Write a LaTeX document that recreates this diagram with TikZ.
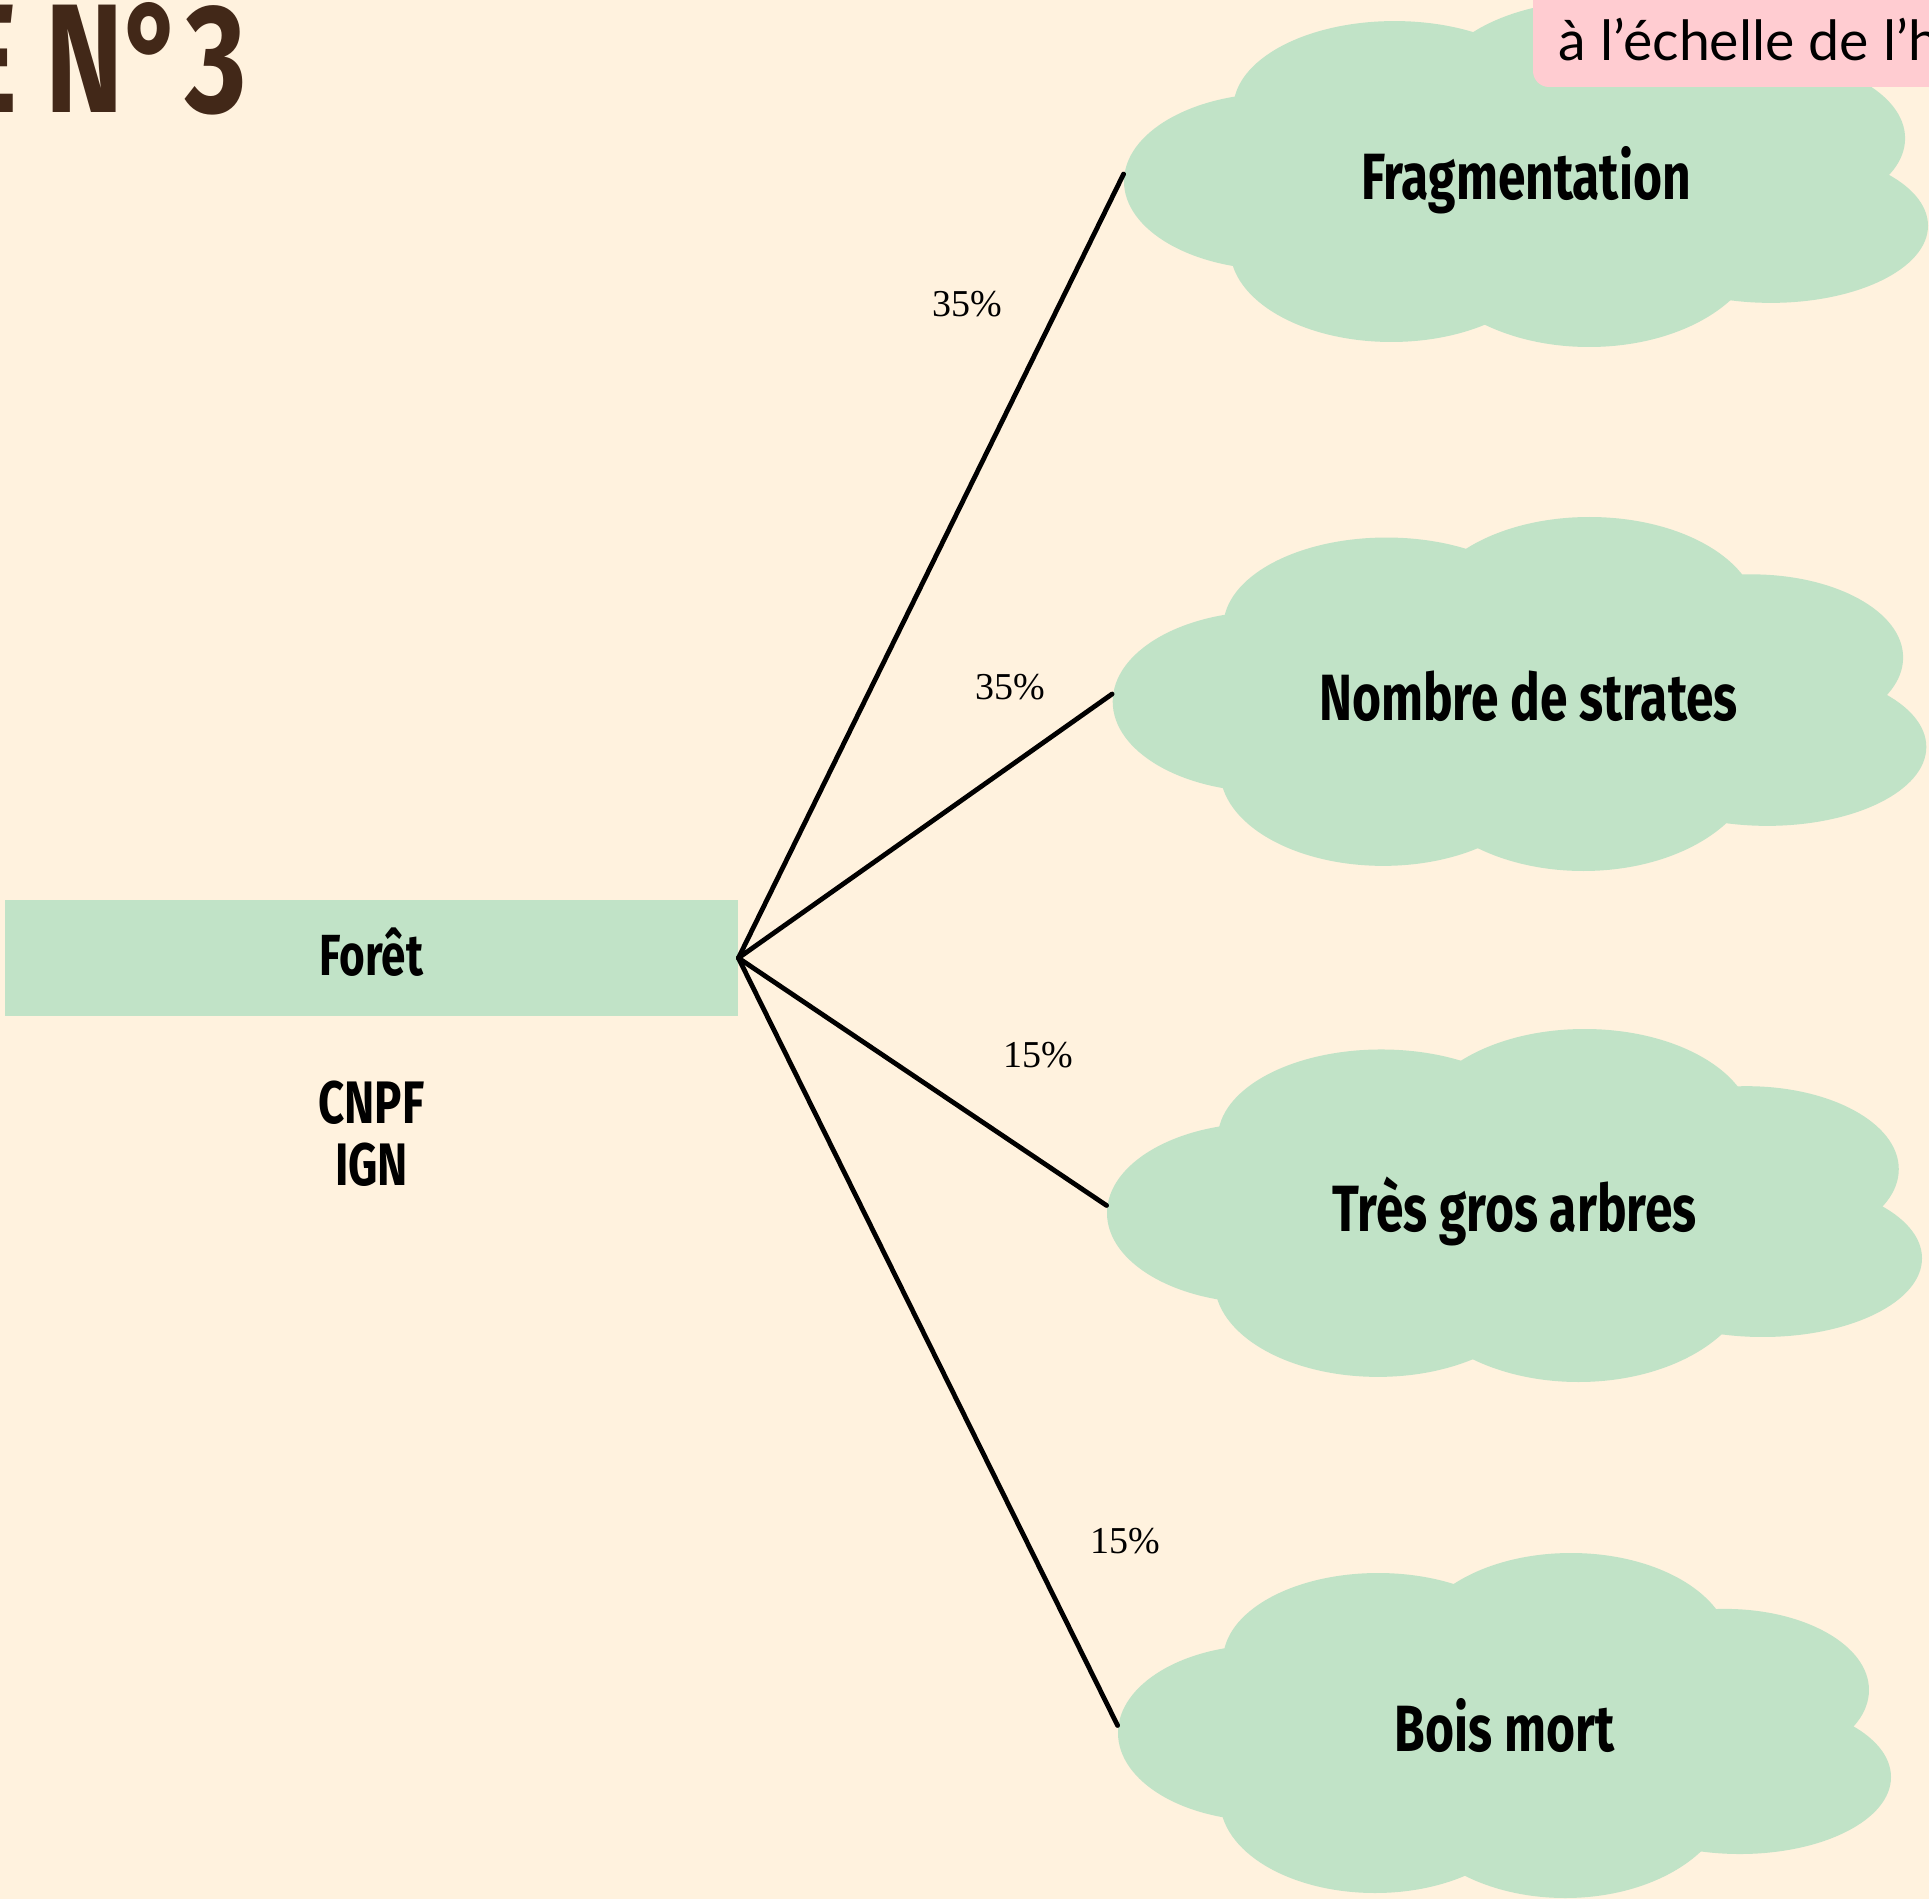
\documentclass[tikz,border=0pt]{standalone}
\usepackage{fontspec}
\setmainfont{Liberation Serif}
\newfontfamily\headfont[FakeStretch=0.76]{Fira Sans}
\newfontfamily\labfont{Lato}
\definecolor{bgc}{RGB}{255,242,222}
\definecolor{cloudgreen}{RGB}{193,227,199}
\definecolor{pinkc}{RGB}{255,204,209}
\definecolor{titlebrown}{RGB}{66,40,24}
\newcommand{\cloudfill}[4]{%
\begin{scope}[shift={(#1,#2)},x=#3,y=#4]
 \fill[cloudgreen] (0,0) ellipse [x radius=0.75,y radius=0.7];
 \fill[cloudgreen] (-0.620,0.043) ellipse [x radius=0.380,y radius=0.510];
 \fill[cloudgreen] (-0.327,-0.380) ellipse [x radius=0.401,y radius=0.504];
 \fill[cloudgreen] (0.172,-0.438) ellipse [x radius=0.414,y radius=0.562];
 \fill[cloudgreen] (0.570,-0.206) ellipse [x radius=0.373,y radius=0.470];
 \fill[cloudgreen] (0.609,0.299) ellipse [x radius=0.391,y radius=0.446];
 \fill[cloudgreen] (0.157,0.374) ellipse [x radius=0.427,y radius=0.626];
 \fill[cloudgreen] (-0.335,0.432) ellipse [x radius=0.401,y radius=0.539];
\end{scope}}
\begin{document}
\begin{tikzpicture}[x=0.5pt,y=-0.5pt,
  cloudnode/.style={inner sep=0pt, font=\headfont\bfseries\fontsize{32.7}{39}\selectfont, text height=26pt, text depth=0pt},
  pct/.style={inner sep=0pt, anchor=base, font=\fontsize{19}{22}\selectfont},
  conn/.style={line width=2.4pt, line cap=round, black}]
\useasboundingbox (0,0) rectangle (1929,1899);
\fill[bgc] (0,0) rectangle (1929,1899);
% source box
\node[fill=cloudgreen, inner sep=0pt, minimum width=366.5pt, minimum height=58pt,
  font=\headfont\bfseries\fontsize{29}{34}\selectfont, text height=17pt, text depth=0pt] (foret) at (371.5,958) {Forêt};
\node[inner sep=0pt, anchor=north, align=center, font=\headfont\bfseries\fontsize{30}{31}\selectfont] (src) at (371.5,1080) {CNPF\\IGN};
% clouds
\cloudfill{1526}{174}{201pt}{-86.5pt}
\cloudfill{1519.5}{694}{203.4pt}{-88.5pt}
\cloudfill{1514.5}{1205.5}{203.75pt}{-88.25pt}
\cloudfill{1504.5}{1725.5}{193.25pt}{-86.25pt}
\node[cloudnode, minimum width=402pt, minimum height=173pt] (c1) at (1526,174) {Fragmentation};
\node[cloudnode, minimum width=416pt, minimum height=177pt] (c2) at (1528.5,694) {Nombre de strates};
\node[cloudnode, minimum width=407.5pt, minimum height=176.5pt] (c3) at (1514.5,1205.5) {Très gros arbres};
\node[cloudnode, minimum width=386.5pt, minimum height=172.5pt] (c4) at (1504.5,1725.5) {Bois mort};
% connectors
\draw[conn] (foret.east) -- (c1.west);
\draw[conn] (foret.east) -- (c2.west);
\draw[conn] (foret.east) -- (c3.west);
\draw[conn] (foret.east) -- (c4.west);
% weights
\node[pct] (p1) at (967,317) {35\%};
\node[pct] (p2) at (1010,699) {35\%};
\node[pct] (p3) at (1038,1067) {15\%};
\node[pct] (p4) at (1125.5,1553) {15\%};
% pink label
\fill[pinkc, rounded corners=8pt] (1533,-40) rectangle (1990,87);
\node[inner sep=0pt, anchor=base west, font=\labfont\fontsize{27.7}{32}\selectfont] (echelle) at (1558,61) {à l’échelle de l’h};
% title
\node[inner sep=0pt, anchor=base east, text=titlebrown, font=\headfont\bfseries\fontsize{77.5}{90}\selectfont] (title) at (247,113) {E N°3};
\end{tikzpicture}
\end{document}
